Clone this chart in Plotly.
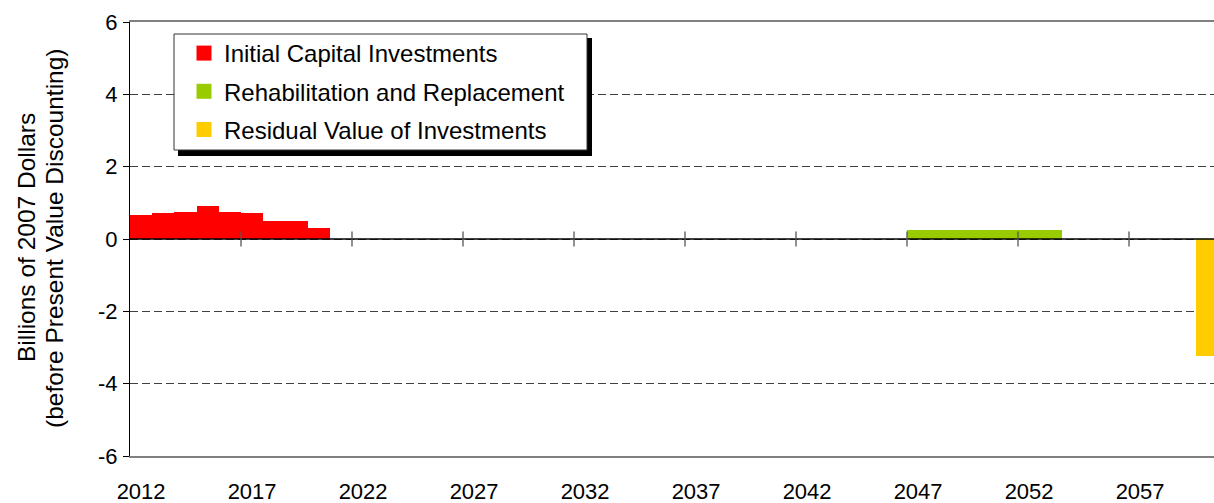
import plotly.graph_objects as go

# ---- data ----
initial_years = [2012, 2013, 2014, 2015, 2016, 2017, 2018, 2019, 2020]
initial_vals = [0.67, 0.73, 0.75, 0.92, 0.75, 0.73, 0.51, 0.51, 0.31]
rehab_years = [2047, 2048, 2049, 2050, 2051, 2052, 2053]
rehab_vals = [0.26, 0.26, 0.26, 0.26, 0.26, 0.26, 0.26]
resid_years = [2060]
resid_vals = [-3.24]
label_years = [2012, 2017, 2022, 2027, 2032, 2037, 2042, 2047, 2052, 2057]
y_ticks = [-6, -4, -2, 0, 2, 4, 6]
series_names = ["Initial Capital Investments", "Rehabilitation and Replacement",
                "Residual Value of Investments"]
colors = ["#FF0000", "#99CC00", "#FFCC00"]
title_lines = ["Billions of 2007 Dollars", "(before Present Value Discounting)"]

FONT = "Liberation Sans, Arial, sans-serif"
W, H = 1214, 503
L, T, B = 130, 22, 47
plot_w = W - L
plot_h = H - T - B
cat_w = 22.2

def px_x(p):
    return (p - L) / plot_w

def px_y(p):
    return (H - B - p) / plot_h

fig = go.Figure()
for xs, ys, c in [(initial_years, initial_vals, colors[0]),
                  (rehab_years, rehab_vals, colors[1]),
                  (resid_years, resid_vals, colors[2])]:
    fig.add_trace(go.Bar(x=xs, y=ys, width=1, marker=dict(color=c, line=dict(width=0)),
                         showlegend=False, hoverinfo="x+y"))

# legend-only entries with square swatches
for i, (n, c) in enumerate(zip(series_names, colors)):
    fig.add_trace(go.Scatter(x=[None], y=[None], mode="markers", name=n,
                             legendgroup=str(i),
                             marker=dict(symbol="square", size=15, color=c)))

shapes = []
# legend shadow + box
shapes.append(dict(type="rect", xref="paper", yref="paper",
                   x0=px_x(178), x1=px_x(592), y0=px_y(156), y1=px_y(38),
                   fillcolor="black", line=dict(width=0), layer="above"))
shapes.append(dict(type="rect", xref="paper", yref="paper",
                   x0=px_x(174), x1=px_x(587), y0=px_y(150), y1=px_y(34),
                   fillcolor="white", line=dict(color="#333333", width=1), layer="above"))
# zero line
shapes.append(dict(type="line", xref="paper", yref="y", x0=0, x1=1, y0=0, y1=0,
                   line=dict(color="black", width=1.3), layer="above"))
# cross tick marks between categories on the zero line
for yr in label_years[1:]:
    shapes.append(dict(type="line", xref="x", yref="y", x0=yr - 0.5, x1=yr - 0.5,
                       y0=-0.21, y1=0.21, line=dict(color="#555555", width=1.3),
                       layer="above"))

annotations = []
for txt, xpix in zip(title_lines, [27, 55]):
    annotations.append(dict(text=txt, xref="paper", yref="paper",
                            x=px_x(xpix), y=px_y(238), xanchor="center", yanchor="middle",
                            textangle=-90, showarrow=False,
                            font=dict(family=FONT, size=24.5, color="black")))

fig.update_layout(
    width=W, height=H,
    margin=dict(l=L, r=0, t=T, b=B, autoexpand=False),
    paper_bgcolor="white", plot_bgcolor="white",
    barmode="relative", bargap=0,
    font=dict(family=FONT, size=22, color="black"),
    shapes=shapes,
    annotations=annotations,
    showlegend=True,
    legend=dict(x=px_x(184), y=px_y(31), xanchor="left", yanchor="top",
                bgcolor="rgba(0,0,0,0)", borderwidth=0,
                font=dict(family=FONT, size=24, color="black"),
                traceorder="grouped", tracegroupgap=4),
    xaxis=dict(range=[2011.5, 2011.5 + plot_w / cat_w], tickmode="array",
               tickvals=label_years, ticktext=[str(y) for y in label_years],
               showgrid=False, zeroline=False, ticks="",
               showline=True, mirror=True, linecolor="#808080", linewidth=1.5,
               ticklabelstandoff=15, automargin=False,
               tickfont=dict(family=FONT, size=22, color="black")),
    yaxis=dict(range=[-6, 6], tickmode="array", tickvals=y_ticks,
               ticktext=[str(v) for v in y_ticks],
               showgrid=True, gridcolor="#404040", griddash="8px,4px", gridwidth=1,
               zeroline=False, showline=True, linecolor="black", linewidth=1.3,
               ticks="outside", ticklen=6, tickcolor="black", automargin=False,
               ticklabelstandoff=1,
               tickfont=dict(family=FONT, size=22, color="black")),
)

fig.write_html("out.html", config={"displayModeBar": False},
               post_script="document.body.style.margin='0px';document.body.style.overflow='hidden';")
